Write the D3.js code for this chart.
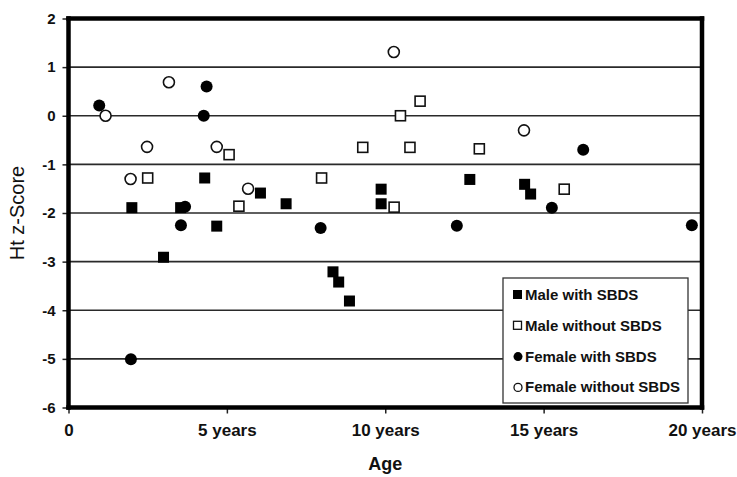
<!DOCTYPE html>
<html><head><meta charset="utf-8">
<script src="https://cdn.jsdelivr.net/npm/d3@7"></script>
<style>
body{margin:0;background:#fff;}
svg{display:block;}
</style></head>
<body>
<svg id="chart" width="737" height="477"></svg>
<script>
// Data: [age in years, height z-score]
const maleWith = [[2.0,-1.89],[3.54,-1.89],[3.0,-2.91],[4.3,-1.28],[4.68,-2.27],[6.06,-1.59],[6.87,-1.81],[8.35,-3.21],[8.53,-3.42],[8.87,-3.81],[9.87,-1.51],[9.87,-1.81],[12.67,-1.31],[14.4,-1.41],[14.59,-1.61]];
const maleWithout = [[5.07,-0.80],[2.5,-1.28],[5.38,-1.86],[7.99,-1.28],[9.29,-0.65],[10.48,0.0],[11.1,0.30],[10.78,-0.65],[10.28,-1.88],[12.97,-0.68],[15.65,-1.51]];
const femaleWith = [[0.97,0.21],[4.36,0.60],[4.27,0.0],[3.68,-1.87],[3.55,-2.25],[1.97,-5.01],[7.96,-2.31],[12.26,-2.26],[16.25,-0.70],[15.26,-1.89],[19.68,-2.25]];
const femaleWithout = [[1.17,0.0],[3.17,0.69],[2.48,-0.64],[4.68,-0.64],[1.96,-1.30],[5.67,-1.50],[10.27,1.31],[14.38,-0.30]];
const xTicks = [0,5,10,15,20];
const xTickLabels = ["0","5 years","10 years","15 years","20 years"];
const yTicks = [2,1,0,-1,-2,-3,-4,-5,-6];
const seriesNames = ["Male with SBDS","Male without SBDS","Female with SBDS","Female without SBDS"];

const svg = d3.select("#chart");
const x = d3.scaleLinear().domain([0,20]).range([68.5,702]);
const y = d3.scaleLinear().domain([-6,2]).range([407.5,18.5]);

// gridlines
svg.append("g").selectAll("line").data(yTicks.filter(d=>d>-6 && d<2)).join("line")
  .attr("x1",x(0)).attr("x2",x(20)).attr("y1",d=>y(d)).attr("y2",d=>y(d))
  .style("stroke","#2a2a2a").style("stroke-width","1.6px");

// y axis ticks + labels
const yAxis = svg.append("g").attr("transform",`translate(${x(0)},0)`)
  .call(d3.axisLeft(y).tickValues(yTicks).tickSize(6).tickPadding(7).tickFormat(d3.format("d")));
yAxis.select(".domain").remove();
yAxis.selectAll(".tick line").style("stroke","#222").style("stroke-width","1.5px");
yAxis.selectAll(".tick text").attr("font-family","Liberation Sans, Arial, sans-serif")
  .attr("font-weight","bold").attr("font-size",15).attr("fill","#111").text(d=>d<0?"-"+Math.abs(d):d);

// x axis ticks + labels
const xAxis = svg.append("g").attr("transform",`translate(0,${y(-6)})`)
  .call(d3.axisBottom(x).tickValues(xTicks).tickSize(6).tickPadding(10).tickFormat((d,i)=>xTickLabels[i]));
xAxis.select(".domain").remove();
xAxis.selectAll(".tick line").style("stroke","#222").style("stroke-width","1.5px");
xAxis.selectAll(".tick text").attr("font-family","Liberation Sans, Arial, sans-serif")
  .attr("font-weight","bold").attr("font-size",17).attr("fill","#111");

// frame (four thick sides)
const frame = svg.append("g");
const sides = [[x(0),y(2),x(20),y(2)],[x(20),y(2),x(20),y(-6)],[x(20),y(-6),x(0),y(-6)],[x(0),y(-6),x(0),y(2)]];
frame.selectAll("line").data(sides).join("line")
  .attr("x1",d=>d[0]).attr("y1",d=>d[1]).attr("x2",d=>d[2]).attr("y2",d=>d[3])
  .style("stroke","#000").style("stroke-width","4.5px").style("stroke-linecap","square");

// axis titles
svg.append("text").attr("x",x(10)).attr("y",470).attr("text-anchor","middle")
  .attr("font-family","Liberation Sans, Arial, sans-serif").attr("font-weight","bold").attr("font-size",18)
  .attr("fill","#111").text("Age");
svg.append("text").attr("transform",`translate(24,${(y(2)+y(-6))/2}) rotate(-90)`).attr("text-anchor","middle")
  .attr("font-family","Liberation Sans, Arial, sans-serif").attr("font-size",20).attr("fill","#111").text("Ht z-Score");

// markers
const pts = svg.append("g");
pts.selectAll(".mw").data(maleWith).join("rect").attr("class","mw")
  .attr("x",d=>x(d[0])-5.5).attr("y",d=>y(d[1])-5.5).attr("width",11).attr("height",11).attr("fill","#000");
pts.selectAll(".mwo").data(maleWithout).join("rect").attr("class","mwo")
  .attr("x",d=>x(d[0])-5).attr("y",d=>y(d[1])-5).attr("width",10).attr("height",10)
  .attr("fill","#fff").style("stroke","#111").style("stroke-width","1.6px");
pts.selectAll(".fw").data(femaleWith).join("circle").attr("class","fw")
  .attr("cx",d=>x(d[0])).attr("cy",d=>y(d[1])).attr("r",6).attr("fill","#000");
pts.selectAll(".fwo").data(femaleWithout).join("circle").attr("class","fwo")
  .attr("cx",d=>x(d[0])).attr("cy",d=>y(d[1])).attr("r",5.5)
  .attr("fill","#fff").style("stroke","#111").style("stroke-width","1.6px");

// legend
const lg = svg.append("g").attr("transform","translate(503,278)");
lg.append("rect").attr("width",185).attr("height",125).attr("fill","#fff").style("stroke","#333").style("stroke-width","1.3px");
const items = lg.selectAll(".li").data(seriesNames).join("g").attr("class","li")
  .attr("transform",(d,i)=>`translate(0,${16+i*30.8})`);
items.each(function(d,i){
  const g = d3.select(this);
  if(i===0) g.append("rect").attr("x",10).attr("y",-4).attr("width",9).attr("height",9).attr("fill","#000");
  if(i===1) g.append("rect").attr("x",10.5).attr("y",-3.5).attr("width",8).attr("height",8).attr("fill","#fff").style("stroke","#111").style("stroke-width","1.3px");
  if(i===2) g.append("circle").attr("cx",15).attr("cy",1).attr("r",4.5).attr("fill","#000");
  if(i===3) g.append("circle").attr("cx",15).attr("cy",1).attr("r",4).attr("fill","#fff").style("stroke","#111").style("stroke-width","1.3px");
  g.append("text").attr("x",22).attr("y",6).attr("font-family","Liberation Sans, Arial, sans-serif")
    .attr("font-weight","bold").attr("font-size",15).attr("fill","#111").text(d);
});
</script>
</body></html>
